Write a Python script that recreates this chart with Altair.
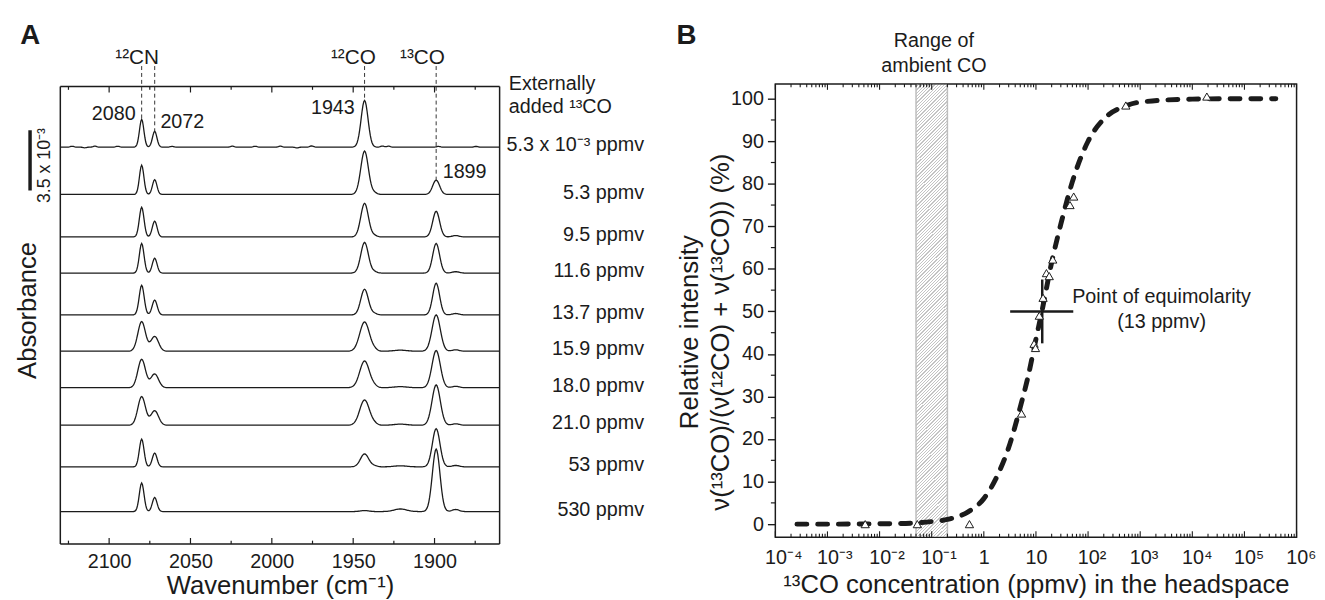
import altair as alt
import numpy as np
import pandas as pd

FONT = "Liberation Sans"
INK = "#1b1b1b"

# ---------------- Panel A : FTIR spectra ----------------
A_W, A_H = 445, 466
WN_DOMAIN = [2130, 1860]
ABS_DOMAIN = [0, 26.735]          # units of 1e-3 absorbance
A_FRAME_TOP = 26.58
A_TICKS_MAJOR = [2100, 2050, 2000, 1950, 1900]
A_TICKS_MINOR = [2125, 2075, 2025, 1975, 1925, 1875]

PEAK_POS = [2080, 2072, 1943, 1899]
TRACE_LABELS = ["5.3 x 10\u207b\u00b3 ppmv", "5.3 ppmv", "9.5 ppmv", "11.6 ppmv", "13.7 ppmv",
                "15.9 ppmv", "18.0 ppmv", "21.0 ppmv", "53 ppmv", "530 ppmv"]
TRACE_OFFSET = [23.06, 20.31, 17.84, 15.74, 13.31, 11.20, 9.08, 6.90, 4.48, 1.88]
H_2080 = [1.61, 1.70, 1.72, 1.72, 1.72, 1.72, 1.65, 1.66, 1.61, 1.66]
H_2072 = [0.92, 0.86, 0.92, 0.86, 0.86, 0.86, 0.80, 0.84, 0.80, 0.82]
H_1943 = [2.71, 2.52, 1.95, 1.78, 1.49, 1.70, 1.55, 1.47, 0.75, 0.06]
H_1899 = [0.00, 0.83, 1.49, 1.72, 1.84, 2.11, 2.16, 2.34, 2.22, 3.63]
FW_CN = [3.2, 3.2, 3.4, 3.4, 3.6, 5.5, 5.5, 5.5, 3.4, 3.4]
FW_12CO = [5.0, 5.5, 5.5, 5.5, 5.5, 7.0, 7.0, 7.0, 6.0, 6.0]
FW_13CO = [5.0, 5.0, 5.0, 5.0, 5.0, 6.0, 6.0, 6.0, 5.5, 5.5]
MINOR_POS = [1937, 1921, 1887]
FW_MINOR = [4.0, 9.0, 5.0]
H_1937 = [0.00, 0.09, 0.08, 0.08, 0.08, 0.08, 0.08, 0.08, 0.06, 0.00]
H_1921 = [0.00, 0.00, 0.00, 0.00, 0.00, 0.06, 0.06, 0.06, 0.06, 0.15]
H_1887 = [0.00, 0.00, 0.08, 0.08, 0.08, 0.08, 0.08, 0.08, 0.08, 0.12]
# small baseline wiggles of the first (lowest concentration) trace
WIGGLE_POS = [2122.8, 2115.0, 2108.8, 2094.7, 2061.4, 2024.3, 2010.2, 1994.8, 1984.6, 1975.6,
              1932.1, 1928.3, 1897.6, 1874.5]
WIGGLE_H = [0.05, -0.04, 0.06, 0.05, 0.04, 0.06, 0.05, 0.06, -0.05, 0.07, 0.06, 0.06, 0.04, 0.04]

SPECIES = ["\u00b9\u00b2CN", "\u00b9\u00b2CO", "\u00b9\u00b3CO"]
SPECIES_X = [2082.8, 1949.9, 1907.4]
SPECIES_Y = 27.88
GUIDE_X = [2080, 2072, 1943, 1899]
GUIDE_Y_TOP = [27.77, 27.77, 27.77, 27.77]
GUIDE_Y_END = [24.67, 23.98, 25.77, 21.14]
PEAK_TXT_R = ["2080", "1943"]
PEAK_TXT_R_X = [2083.7, 1949.0]
PEAK_TXT_R_Y = [24.61, 25.01]
PEAK_TXT_L = ["2072", "1899"]
PEAK_TXT_L_X = [2068.5, 1895.0]
PEAK_TXT_L_Y = [24.15, 21.29]
HEAD_TXT = ["Externally", "added \u00b9\u00b3CO"]
HEAD_X = 1854.35
HEAD_Y = [26.74, 25.36]
TRACE_LABEL_X = 1771.2
SCALEBAR_X = 2148.6
SCALEBAR_Y = [20.54, 24.04]
SCALEBAR_LABEL_X = 2139.5

# ---------------- Panel B : relative intensity ----------------
B_W, B_H = 528, 459.3
CONC_DOMAIN = [1e-4, 1e6]
REL_DOMAIN = [-3.09, 103.48]
CONC = [0.0053, 0.053, 0.53, 5.3, 9.2, 9.8, 11.6, 13.7, 15.9, 18.0, 21.0, 45, 53, 530, 19000]
REL = [0, 0, 0, 26, 42.4, 41.4, 49, 53.2, 59, 58.3, 62.2, 75, 77, 98.4, 100.5]
FIT_X = [2.6e-4, 1e-3, 5e-3, 0.02, 0.05, 0.1, 0.2, 0.5, 1, 2, 3, 5, 7, 10, 13, 20, 30, 50,
         100, 200, 500, 1000, 1e4, 1e5, 4e5]
FIT_Y = [0.0, 0.0, 0.05, 0.12, 0.3, 0.6, 1.1, 2.9, 6.0, 12.5, 18.0, 27.5, 34.5, 43.5, 50.0,
         61.5, 70.5, 80.5, 90.0, 95.2, 98.2, 99.2, 99.9, 100.0, 100.0]
AMBIENT = [0.05, 0.2]
EQUI_H = [3.2, 52.0, 50.0]
EQUI_V = [13.2, 42.5, 57.5]
DECADES = [1e-4, 1e-3, 1e-2, 1e-1, 1, 10, 1e2, 1e3, 1e4, 1e5, 1e6]
Y_MAJOR = [0, 10, 20, 30, 40, 50, 60, 70, 80, 90, 100]
Y_MINOR = [5, 15, 25, 35, 45, 55, 65, 75, 85, 95]

# ---------------- scales / axes ----------------
sxA = alt.Scale(domain=WN_DOMAIN, nice=False, zero=False)
syA = alt.Scale(domain=ABS_DOMAIN, nice=False, zero=False)
axA_x = alt.Axis(values=A_TICKS_MAJOR, format="d", ticks=False, tickSize=0, domain=False, grid=False,
                 labelFontSize=20, labelPadding=7.5, title="Wavenumber (cm\u207b\u00b9)",
                 titleFontSize=26, titlePadding=2)
axA_y = alt.Axis(labels=False, ticks=False, tickSize=0, domain=False, grid=False,
                 title="Absorbance", titleFontSize=26, titlePadding=20, titleY=229)

def XA(f="x"):
    return alt.X(f + ":Q", scale=sxA, axis=axA_x)

def YA(f="y"):
    return alt.Y(f + ":Q", scale=syA, axis=axA_y)

sxB = alt.Scale(type="log", domain=CONC_DOMAIN, nice=False)
syB = alt.Scale(domain=REL_DOMAIN, nice=False, zero=False)
label_expr = ("datum.value < 0.0005 ? '10\u207b\u2074' : datum.value < 0.005 ? '10\u207b\u00b3' : "
              "datum.value < 0.05 ? '10\u207b\u00b2' : datum.value < 0.5 ? '10\u207b\u00b9' : "
              "datum.value < 5 ? '1' : datum.value < 50 ? '10' : datum.value < 500 ? '10\u00b2' : "
              "datum.value < 5000 ? '10\u00b3' : datum.value < 50000 ? '10\u2074' : "
              "datum.value < 500000 ? '10\u2075' : '10\u2076'")
is_one = "datum.value > 0.5 && datum.value < 5"
axB_x = alt.Axis(values=DECADES, labelExpr=label_expr, ticks=False, tickSize=0, domain=False, grid=False,
                 labelFontSize=20, labelPadding=11, labelFlush=False, labelOverlap=False,
                 labelAlign={"expr": is_one + " ? 'center' : 'left'"},
                 labelOffset={"expr": is_one + " ? 0 : -11"},
                 title="\u00b9\u00b3CO concentration (ppmv) in the headspace",
                 titleFontSize=26, titlePadding=4)
axB_y = alt.Axis(values=Y_MAJOR, format="d", tickSize=8, tickWidth=1.4, labelPadding=4, domain=False,
                 grid=False, labelFontSize=20,
                 title=["Relative intensity", "\u03bd(\u00b9\u00b3CO)/(\u03bd(\u00b9\u00b2CO) + \u03bd(\u00b9\u00b3CO)) (%)"],
                 titleFontSize=26, titlePadding=-3, titleLineHeight=31, titleY=251)

def XB(f="x"):
    return alt.X(f + ":Q", scale=sxB, axis=axB_x)

def YB(f="y"):
    return alt.Y(f + ":Q", scale=syB, axis=axB_y)

one = pd.DataFrame({"k": [0]})

# ---------------- Panel A layers ----------------
wn = np.arange(1860.0, 2130.01, 0.5)
frames = []
for i in range(len(TRACE_LABELS)):
    y = np.full_like(wn, TRACE_OFFSET[i])
    peaks = list(zip(PEAK_POS + MINOR_POS,
                     [H_2080[i], H_2072[i], H_1943[i], H_1899[i], H_1937[i], H_1921[i], H_1887[i]],
                     [FW_CN[i], FW_CN[i], FW_12CO[i], FW_13CO[i]] + FW_MINOR))
    if i == 0:
        peaks += [(p, h, 2.5) for p, h in zip(WIGGLE_POS, WIGGLE_H)]
    for pos, h, fw in peaks:
        s = fw / 2.3548
        y = y + h * np.exp(-0.5 * ((wn - pos) / s) ** 2)
    frames.append(pd.DataFrame({"x": wn, "y": np.round(y, 4), "trace": i}))
spectra_df = pd.concat(frames, ignore_index=True)

spectra = alt.Chart(spectra_df).mark_line(color=INK, strokeWidth=1.3).encode(
    x=XA(), y=YA(), detail="trace:N")

frameA_df = pd.DataFrame({
    "x": [WN_DOMAIN[0], WN_DOMAIN[0], WN_DOMAIN[0], WN_DOMAIN[1]],
    "x2": [WN_DOMAIN[1], WN_DOMAIN[1], WN_DOMAIN[0], WN_DOMAIN[1]],
    "y": [A_FRAME_TOP, ABS_DOMAIN[0], ABS_DOMAIN[0], ABS_DOMAIN[0]],
    "y2": [A_FRAME_TOP, ABS_DOMAIN[0], A_FRAME_TOP, A_FRAME_TOP]})
frameA = alt.Chart(frameA_df).mark_rule(color=INK, strokeWidth=1.5).encode(
    x=XA(), x2="x2:Q", y=YA(), y2="y2:Q")

top_px = 2.7
ticksA = []
for vals, ln in [(A_TICKS_MAJOR, 6), (A_TICKS_MINOR, 3.3)]:
    d = pd.DataFrame({"x": vals})
    ticksA.append(alt.Chart(d).mark_rule(color=INK, strokeWidth=1.2).encode(
        x=XA(), y=alt.value(A_H), y2=alt.value(A_H - ln)))
    ticksA.append(alt.Chart(d).mark_rule(color=INK, strokeWidth=1.2).encode(
        x=XA(), y=alt.value(top_px), y2=alt.value(top_px + ln)))

guides = alt.Chart(pd.DataFrame({"x": GUIDE_X, "y": GUIDE_Y_TOP, "y2": GUIDE_Y_END})).mark_rule(
    color="#333333", strokeWidth=1, strokeDash=[4, 3]).encode(x=XA(), y=YA(), y2="y2:Q")

def textA(df, align, baseline, size, angle=0):
    return alt.Chart(df).mark_text(align=align, baseline=baseline, fontSize=size, color=INK,
                                   angle=angle).encode(x=XA(), y=YA(), text="t:N")

species = textA(pd.DataFrame({"x": SPECIES_X, "y": [SPECIES_Y] * 3, "t": SPECIES}),
                "center", "alphabetic", 21)
peak_r = textA(pd.DataFrame({"x": PEAK_TXT_R_X, "y": PEAK_TXT_R_Y, "t": PEAK_TXT_R}),
               "right", "alphabetic", 20)
peak_l = textA(pd.DataFrame({"x": PEAK_TXT_L_X, "y": PEAK_TXT_L_Y, "t": PEAK_TXT_L}),
               "left", "alphabetic", 20)
head = textA(pd.DataFrame({"x": [HEAD_X] * 2, "y": HEAD_Y, "t": HEAD_TXT}), "left", "middle", 20)
tlabels = textA(pd.DataFrame({"x": [TRACE_LABEL_X] * len(TRACE_LABELS),
                              "y": [o + 0.1 for o in TRACE_OFFSET], "t": TRACE_LABELS}),
                "right", "middle", 20)
scalebar = alt.Chart(pd.DataFrame({"x": [SCALEBAR_X], "y": [SCALEBAR_Y[0]], "y2": [SCALEBAR_Y[1]]})).mark_rule(
    color=INK, strokeWidth=3.5).encode(x=XA(), y=YA(), y2="y2:Q")
scalelabel = textA(pd.DataFrame({"x": [SCALEBAR_LABEL_X], "y": [sum(SCALEBAR_Y) / 2 - 0.3],
                                 "t": ["3.5 x 10\u207b\u00b3"]}), "center", "middle", 18, angle=270)
letterA = alt.Chart(one).mark_text(text="A", align="left", baseline="top", fontSize=28,
                                   fontWeight="bold", color=INK).encode(
    x=alt.value(-40.7), y=alt.value(-62))

panelA = alt.layer(spectra, *ticksA, frameA, guides, species, peak_r, peak_l, head, tlabels,
                   scalebar, scalelabel, letterA).properties(
    width=A_W, height=A_H, view=alt.ViewBackground(stroke="transparent"))

# ---------------- Panel B layers ----------------
N = 150
stops = []
for k in range(N):
    a, b, c = k / N, (k + 0.62) / N, (k + 1) / N
    stops += [{"offset": a, "color": "#ffffff"}, {"offset": b, "color": "#ffffff"},
              {"offset": b, "color": "#c4c4c4"}, {"offset": c, "color": "#c4c4c4"}]
hatch = {"gradient": "linear", "x1": 0, "y1": 0, "x2": 0.07365, "y2": 1.06412, "stops": stops}

band = alt.Chart(pd.DataFrame({"x": [AMBIENT[0]], "x2": [AMBIENT[1]]})).mark_rect(fill=hatch).encode(
    x=XB(), x2="x2:Q", y=alt.value(0.8), y2=alt.value(B_H - 0.8))
band_edges = alt.Chart(pd.DataFrame({"x": AMBIENT})).mark_rule(color="#bdbdbd", strokeWidth=1.5).encode(
    x=XB(), y=alt.value(0.8), y2=alt.value(B_H - 0.8))

minor_x = [m * d for d in DECADES[:-1] for m in range(2, 10)]
ticksB = []
for vals, ln in [(DECADES, 6), (minor_x, 3.5)]:
    d = pd.DataFrame({"x": vals})
    ticksB.append(alt.Chart(d).mark_rule(color=INK, strokeWidth=1.1).encode(
        x=XB(), y=alt.value(B_H), y2=alt.value(B_H - ln)))
    ticksB.append(alt.Chart(d).mark_rule(color=INK, strokeWidth=1.1).encode(
        x=XB(), y=alt.value(0), y2=alt.value(ln)))
ticksB.append(alt.Chart(pd.DataFrame({"y": Y_MINOR})).mark_rule(color=INK, strokeWidth=1.2).encode(
    y=YB(), x=alt.value(-4.5), x2=alt.value(0)))

curve = alt.Chart(pd.DataFrame({"x": FIT_X, "y": FIT_Y})).mark_line(
    color=INK, strokeWidth=5, strokeDash=[10, 11], strokeCap="round", interpolate="monotone").encode(
    x=XB(), y=YB())

cross = alt.Chart(pd.DataFrame({"x": [EQUI_H[0], EQUI_V[0]], "x2": [EQUI_H[1], EQUI_V[0]],
                                "y": [EQUI_H[2], EQUI_V[1]], "y2": [EQUI_H[2], EQUI_V[2]]})).mark_rule(
    color=INK, strokeWidth=2.5).encode(x=XB(), x2="x2:Q", y=YB(), y2="y2:Q")

points = alt.Chart(pd.DataFrame({"x": CONC, "y": REL})).mark_point(
    shape="triangle-up", filled=True, fill="#ffffff", stroke=INK, strokeWidth=1, size=70, opacity=1).encode(
    x=XB(), y=YB())

def textB(df, align, baseline, size):
    return alt.Chart(df).mark_text(align=align, baseline=baseline, fontSize=size, color=INK).encode(
        x=XB(), y=YB(), text="t:N")

ambient_txt = textB(pd.DataFrame({"x": [0.11, 0.11], "y": [113.5, 107.7],
                                  "t": ["Range of", "ambient CO"]}), "center", "middle", 20)
equi_txt = textB(pd.DataFrame({"x": [2570, 2570], "y": [53.4, 47.6],
                               "t": ["Point of equimolarity", "(13 ppmv)"]}), "center", "middle", 20)
letterB = alt.Chart(one).mark_text(text="B", align="left", baseline="top", fontSize=28,
                                   fontWeight="bold", color=INK).encode(
    x=alt.value(-100), y=alt.value(-62))

panelB = alt.layer(band, band_edges, *ticksB, curve, cross, points, ambient_txt, equi_txt,
                   letterB).properties(width=B_W, height=B_H)

chart = alt.hconcat(panelA, panelB, spacing=279.3, bounds="flush").properties(
    padding={"left": 6, "top": 10, "right": 0, "bottom": 0}, background="#ffffff"
).configure(font=FONT).configure_view(stroke=INK, strokeWidth=1.5).configure_axis(
    labelColor=INK, titleColor=INK, tickColor=INK, labelFont=FONT, titleFont=FONT,
    titleFontWeight="normal")

chart.save("out.html", embed_options={"renderer": "svg", "actions": False})
